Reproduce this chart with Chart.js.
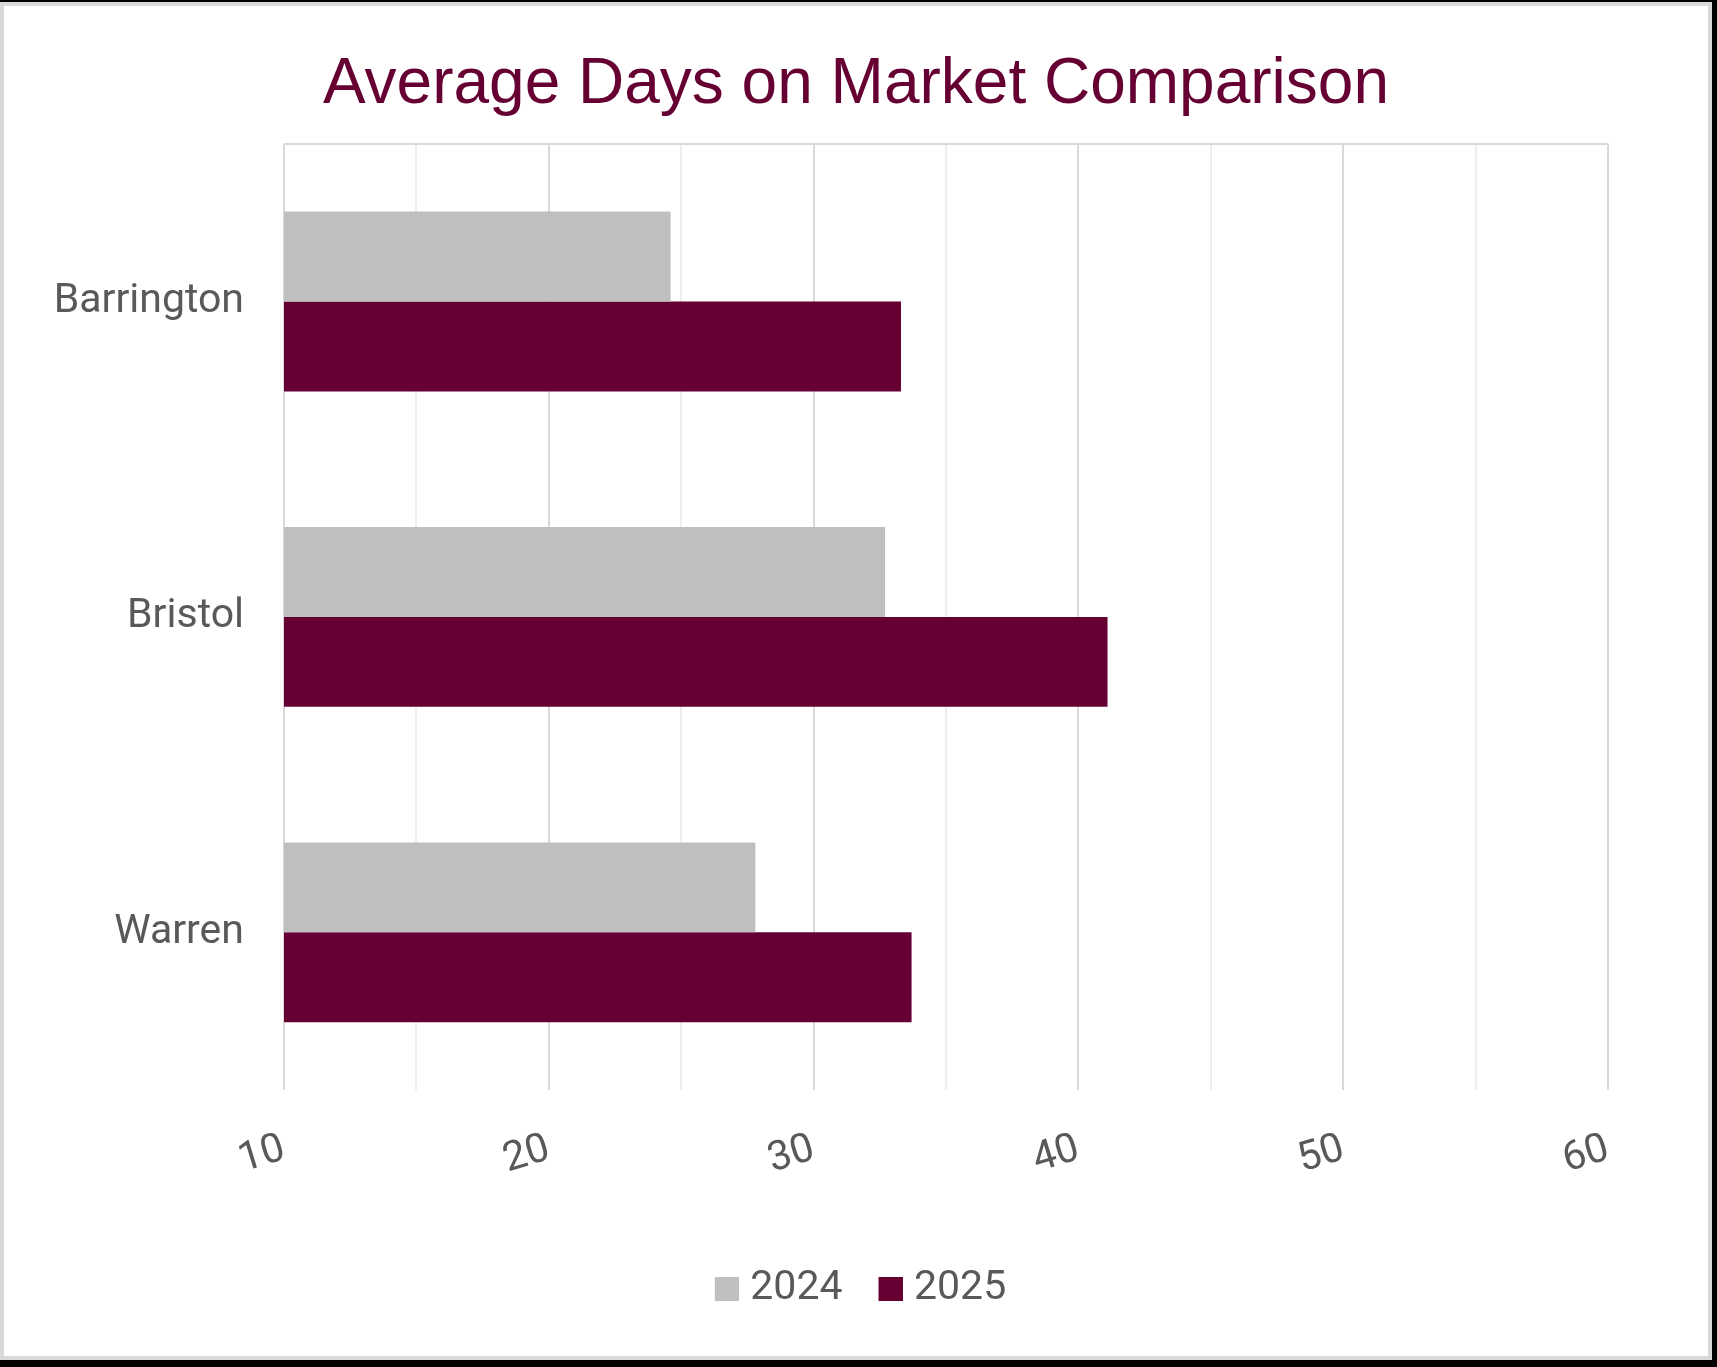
<!DOCTYPE html>
<html lang="en">
<head>
    <meta charset="UTF-8">
    <title>Average Days on Market Comparison</title>
    <script src="https://cdn.jsdelivr.net/npm/chart.js@4.4.0/dist/chart.umd.min.js"></script>
    <style>
        html, body {
            margin: 0;
            padding: 0;
            background: #000;
            width: 1717px;
            height: 1367px;
            overflow: hidden;
        }
        .chart-card {
            position: absolute;
            left: 0;
            top: 2px;
            width: 1712px;
            height: 1358px;
            box-sizing: border-box;
            border: 4px solid #d9d9d9;
            background: #fff;
        }
        #domChart {
            display: block;
        }
    </style>
</head>
<body>
    <div class="chart-card">
        <canvas id="domChart" width="1704" height="1350"></canvas>
    </div>

    <script>
        // Chart data
        const towns = ['Barrington', 'Bristol', 'Warren'];
        const days2024 = [24.6, 32.7, 27.8];
        const days2025 = [33.3, 41.1, 33.7];
        const seriesLabels = ['2024', '2025'];

        const axisMin = 10;
        const axisMax = 60;
        const axisStep = 5;

        const textGrey = '#595959';
        const wine = '#660033';
        const lightGrey = '#bfbfbf';

        // Legend swatch: square sits on the right of the image so it hugs the label text
        function makeSwatch(color) {
            const c = document.createElement('canvas');
            c.width = 42;
            c.height = 24;
            const g = c.getContext('2d');
            g.fillStyle = color;
            g.fillRect(18, 0, 24, 24);
            return c;
        }

        const domChart = new Chart(
            document.getElementById('domChart'),
            {
                type: 'bar',
                data: {
                    labels: towns,
                    datasets: [
                        {
                            label: seriesLabels[0],
                            data: days2024,
                            backgroundColor: lightGrey,
                            pointStyle: makeSwatch(lightGrey),
                            categoryPercentage: 0.57,
                            barPercentage: 1.0
                        },
                        {
                            label: seriesLabels[1],
                            data: days2025,
                            backgroundColor: wine,
                            pointStyle: makeSwatch(wine),
                            categoryPercentage: 0.57,
                            barPercentage: 1.0
                        }
                    ]
                },
                options: {
                    indexAxis: 'y',
                    responsive: false,
                    devicePixelRatio: 1,
                    animation: false,
                    layout: {
                        padding: { left: 40, right: 40, top: 0, bottom: 37 }
                    },
                    plugins: {
                        title: {
                            display: true,
                            text: 'Average Days on Market Comparison',
                            color: wine,
                            font: { family: '"Liberation Sans", Arial, sans-serif', size: 64, weight: 'normal' },
                            padding: { top: 41, bottom: 20 }
                        },
                        legend: {
                            position: 'bottom',
                            labels: {
                                color: textGrey,
                                font: { family: 'Roboto, sans-serif', size: 41 },
                                usePointStyle: true,
                                boxWidth: 24,
                                boxHeight: 24,
                                padding: 27
                            }
                        },
                        tooltip: { enabled: false }
                    },
                    scales: {
                        x: {
                            min: axisMin,
                            max: axisMax,
                            border: { display: false },
                            grid: {
                                drawTicks: false,
                                lineWidth: 2,
                                color: ctx => (ctx.tick && ctx.tick.value % 10 === 0) ? '#d9d9d9' : '#eeeeee'
                            },
                            ticks: {
                                stepSize: axisStep,
                                autoSkip: false,
                                minRotation: 17,
                                maxRotation: 17,
                                padding: 35,
                                color: textGrey,
                                font: { family: 'Roboto, sans-serif', size: 41 },
                                callback: value => value % 10 === 0 ? value : ''
                            },
                            afterFit: scale => { scale.height = 151; }
                        },
                        y: {
                            border: { display: false },
                            grid: {
                                drawTicks: false,
                                lineWidth: 2,
                                color: ctx => ctx.index === 0 ? '#d9d9d9' : 'rgba(0,0,0,0)'
                            },
                            ticks: {
                                padding: 40,
                                color: textGrey,
                                font: { family: 'Roboto, sans-serif', size: 41 }
                            },
                            afterFit: scale => { scale.width = 240; }
                        },
                        // empty right-hand spacer so the plot ends where the original does
                        spacer: {
                            type: 'category',
                            axis: 'y',
                            position: 'right',
                            border: { display: false },
                            grid: { display: false },
                            ticks: { display: false },
                            afterFit: scale => { scale.width = 60; }
                        }
                    }
                }
            }
        );
    </script>
</body>
</html>
